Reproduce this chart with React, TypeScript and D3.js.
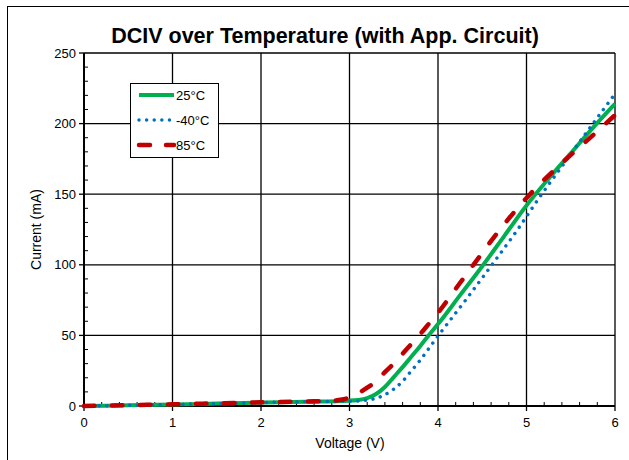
import React from "react";
import * as d3 from "d3";

const xTicks = [0, 1, 2, 3, 4, 5, 6];
const yTicks = [0, 50, 100, 150, 200, 250];

const v25 = [0, 0.5, 1, 1.5, 2, 2.5, 3, 3.1, 3.2, 3.3, 3.4, 3.5, 3.6, 3.7, 3.8, 3.9, 4, 4.25, 4.5, 4.75, 5, 5.25, 5.5, 5.75, 6];
const i25 = [0, 0.5, 1, 1.7, 2.4, 3, 3.8, 4.3, 5.6, 8.5, 13.5, 20.5, 27.5, 35, 42.5, 50.5, 58, 78.5, 99, 120.5, 142, 161, 179, 197, 214];

const vM40 = [0, 0.5, 1, 1.5, 2, 2.5, 3, 3.2, 3.3, 3.4, 3.5, 3.6, 3.7, 3.8, 3.9, 4, 4.3, 4.61, 4.9, 5.15, 5.45, 5.74, 6];
const iM40 = [0, 0.5, 1, 1.7, 2.4, 3, 3.4, 4.2, 5.4, 8, 12, 17.5, 25, 32.5, 41, 49.5, 74, 100, 125, 148, 174, 199, 221];

const v85 = [0, 0.5, 1, 1.5, 2, 2.5, 2.8, 2.9, 3, 3.1, 3.2, 3.3, 3.4, 3.5, 3.6, 3.7, 3.8, 3.9, 4, 4.2, 4.4, 4.7, 5.04, 5.4, 5.79, 6];
const i85 = [0, 0.6, 1.2, 1.9, 2.6, 3.2, 3.7, 4.4, 6, 9, 13, 17.5, 24, 30, 37, 44, 51, 58.5, 66, 83, 100, 125, 150, 172, 194, 206];

const seriesNames = ["25°C", "-40°C", "85°C"];

const W = 629;
const H = 460;
const left = 84;
const right = 615;
const top = 53;
const bottom = 406;

export default function App() {
  const x = d3.scaleLinear().domain([0, 6]).range([left, right]);
  const y = d3.scaleLinear().domain([0, 250]).range([bottom, top]);
  const line = d3
    .line<[number, number]>()
    .x((d) => x(d[0]))
    .y((d) => y(d[1]))
    .curve(d3.curveMonotoneX);

  const series = [
    { name: seriesNames[0], v: v25, i: i25, color: "#00B050", width: 4, dash: undefined, cap: "butt" },
    { name: seriesNames[1], v: vM40, i: iM40, color: "#0070C0", width: 3.5, dash: "0.01 7.6", cap: "round" },
    { name: seriesNames[2], v: v85, i: i85, color: "#C00000", width: 4.5, dash: "10.5 17.5", cap: "round" },
  ];
  const drawOrder = [0, 1, 2];

  const xMinor = d3.range(0, 30).map((k) => k * 0.2).filter((_, k) => k % 5 !== 0);
  const yMinor = d3.range(0, 25).map((k) => k * 10).filter((_, k) => k % 5 !== 0);

  const font = "'Liberation Sans', Arial, sans-serif";

  return (
    <svg
      width={W}
      height={H}
      style={{ position: "absolute", left: 0, top: 0, display: "block", background: "#fff" }}
      fontFamily={font}
    >
      <rect x={7.5} y={6.5} width={700} height={600} fill="#fff" stroke="#000" strokeWidth={1} />
      <text x={325} y={43} textAnchor="middle" fontSize={21.5} fontWeight="bold">
        DCIV over Temperature (with App. Circuit)
      </text>
      {/* grid */}
      {xTicks.map((t) => (
        <line key={"gx" + t} x1={x(t)} x2={x(t)} y1={top} y2={bottom} stroke="#000" strokeWidth={1.3} />
      ))}
      {yTicks.map((t) => (
        <line key={"gy" + t} x1={left} x2={right} y1={y(t)} y2={y(t)} stroke="#000" strokeWidth={1.3} />
      ))}
      {/* minor ticks */}
      {xMinor.map((t) => (
        <line key={"mx" + t} x1={x(t)} x2={x(t)} y1={bottom} y2={bottom - 4} stroke="#000" strokeWidth={1} />
      ))}
      {yMinor.map((t) => (
        <line key={"my" + t} x1={left} x2={left + 4} y1={y(t)} y2={y(t)} stroke="#000" strokeWidth={1} />
      ))}
      {/* major ticks outward */}
      {xTicks.map((t) => (
        <line key={"tx" + t} x1={x(t)} x2={x(t)} y1={bottom} y2={bottom + 5} stroke="#000" strokeWidth={1.3} />
      ))}
      {yTicks.map((t) => (
        <line key={"ty" + t} x1={left - 5} x2={left} y1={y(t)} y2={y(t)} stroke="#000" strokeWidth={1.3} />
      ))}
      {/* axes */}
      <line x1={left} x2={left} y1={top} y2={bottom} stroke="#000" strokeWidth={2} />
      <line x1={left} x2={right} y1={bottom} y2={bottom} stroke="#000" strokeWidth={2} />
      {xTicks.map((t) => (
        <text key={"lx" + t} x={x(t)} y={bottom + 21} textAnchor="middle" fontSize={13}>
          {t}
        </text>
      ))}
      {yTicks.map((t) => (
        <text key={"ly" + t} x={left - 8} y={y(t) + 4.5} textAnchor="end" fontSize={13}>
          {t}
        </text>
      ))}
      <text x={350} y={448} textAnchor="middle" fontSize={14}>
        Voltage (V)
      </text>
      <text transform={`translate(41,${(top + bottom) / 2}) rotate(-90)`} textAnchor="middle" fontSize={14}>
        Current (mA)
      </text>
      {/* series */}
      {drawOrder.map((k) => {
        const s = series[k];
        const pts: [number, number][] = s.v.map((vv, j) => [vv, s.i[j]]);
        return (
          <path
            key={s.name}
            d={line(pts) || ""}
            fill="none"
            stroke={s.color}
            strokeWidth={s.width}
            strokeDasharray={s.dash}
            strokeLinecap={s.cap as any}
          />
        );
      })}
      {/* legend */}
      <rect x={130.5} y={83.5} width={88} height={74} fill="#fff" stroke="#000" strokeWidth={1} />
      {series.map((s, k) => {
        const ly = 95 + k * 25;
        return (
          <g key={"lg" + s.name}>
            <line
              x1={139}
              x2={174}
              y1={ly}
              y2={ly}
              stroke={s.color}
              strokeWidth={s.width}
              strokeDasharray={k === 2 ? "11 16" : s.dash}
              strokeLinecap={s.cap as any}
            />
            <text x={176} y={ly + 5} fontSize={13}>
              {s.name}
            </text>
          </g>
        );
      })}
    </svg>
  );
}
